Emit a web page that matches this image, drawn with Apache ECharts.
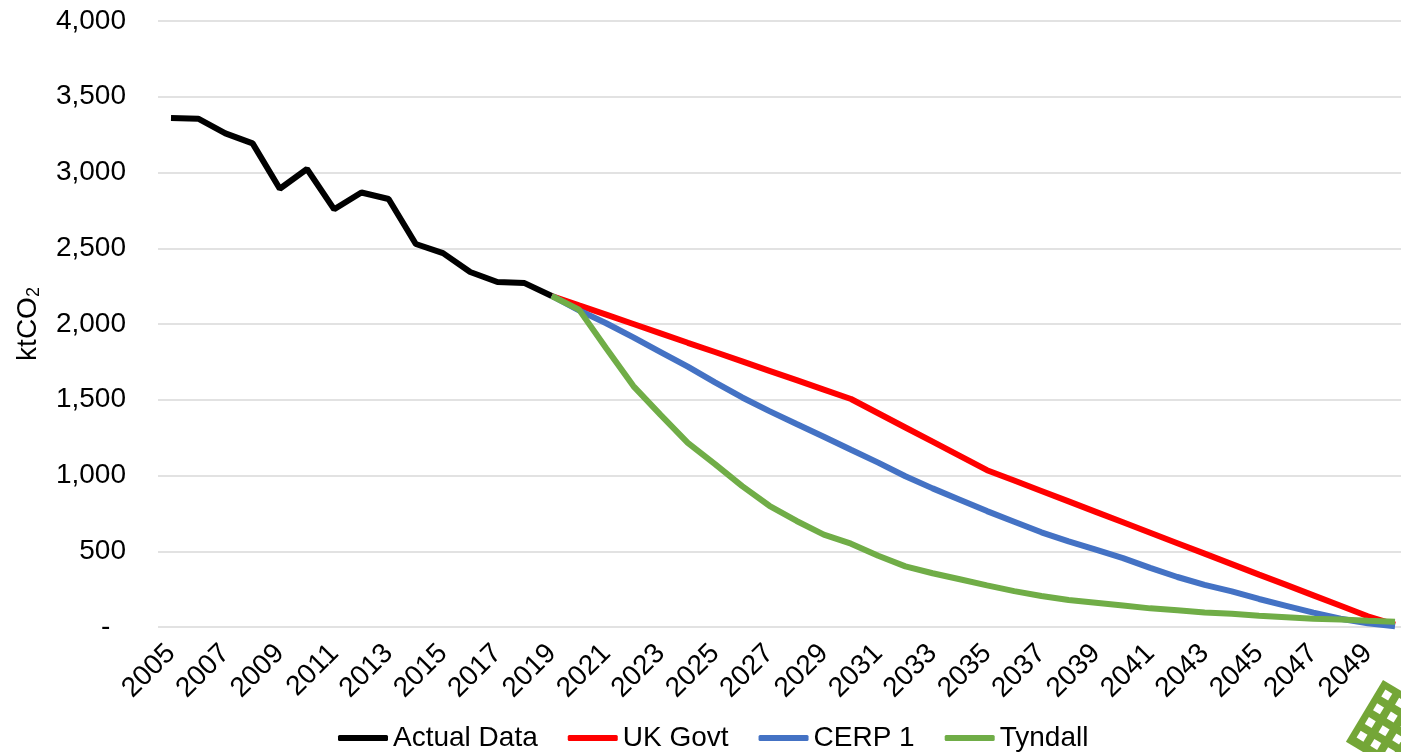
<!DOCTYPE html>
<html>
<head>
<meta charset="utf-8">
<script src="https://cdn.jsdelivr.net/npm/echarts@6/dist/echarts.min.js"></script>
<style>
html,body{margin:0;padding:0;background:#fff;}
#chart{width:1401px;height:752px;}
</style>
</head>
<body>
<div id="chart"></div>
<script>
const years = [];
for (let y = 2005; y <= 2050; y++) years.push(String(y));

const actualData = [3360, 3355, 3258, 3192, 2893, 3023, 2757, 2868, 2825, 2528, 2468, 2343, 2277, 2270, 2185];
const ukGovt = [2185, 2123, 2062, 2000, 1938, 1876, 1815, 1753, 1691, 1629, 1567, 1505, 1411, 1317, 1223, 1129, 1035, 967, 898, 829, 760, 691, 622, 553, 484, 415, 346, 278, 209, 140, 71, 15];
const cerp1 = [2185, 2090, 2005, 1912, 1815, 1718, 1615, 1515, 1425, 1340, 1256, 1170, 1085, 995, 915, 840, 765, 695, 625, 565, 510, 455, 390, 330, 278, 235, 185, 140, 95, 55, 25, 5];
const tyndall = [2185, 2095, 1840, 1590, 1400, 1215, 1075, 930, 800, 700, 610, 550, 470, 400, 355, 315, 275, 237, 205, 178, 160, 142, 123, 110, 95, 88, 75, 65, 55, 50, 42, 35];

const yTicks = { min: 0, max: 4000, interval: 500 };

function pad(arr, startYear) {
  const out = years.map(() => null);
  const off = startYear - 2005;
  arr.forEach((v, i) => { out[off + i] = v; });
  return out;
}

const FONT = "'Liberation Sans', Arial, sans-serif";
const chart = echarts.init(document.getElementById('chart'), null, { renderer: 'canvas' });

// decorative logo
const logoChildren = [{ type: 'rect', shape: { x: 0, y: 0, width: 72, height: 72 }, style: { fill: '#74a637' } }];
for (let r = 0; r < 4; r++) {
  for (let c = 0; c < 4; c++) {
    logoChildren.push({ type: 'rect', shape: { x: 7 + c * 16, y: 7 + r * 16, width: 8, height: 8 }, style: { fill: '#ffffff' } });
  }
}

const lineW = 6;

chart.setOption({
  animation: false,
  backgroundColor: '#ffffff',
  grid: [
    { left: 171, top: 21, width: 1224, height: 606, containLabel: false },
    { left: 158, top: 21, right: 0, height: 606, containLabel: false }
  ],
  legend: {
    left: 333,
    top: 719,
    itemWidth: 50,
    itemHeight: 6,
    itemGap: 30,
    icon: 'roundRect',
    textStyle: { fontFamily: FONT, fontSize: 28, color: '#000' },
    data: ['Actual Data', 'UK Govt', 'CERP 1', 'Tyndall']
  },
  xAxis: [{
    gridIndex: 0,
    type: 'category',
    data: years,
    boundaryGap: false,
    axisLine: { show: false },
    axisTick: { show: false },
    splitLine: { show: false },
    axisLabel: {
      interval: 1,
      rotate: 45,
      margin: 22,
      fontFamily: FONT,
      fontSize: 28,
      color: '#000'
    }
  }, {
    gridIndex: 1,
    type: 'value',
    show: false
  }],
  yAxis: [{
    gridIndex: 0,
    type: 'value',
    min: yTicks.min,
    max: yTicks.max,
    interval: yTicks.interval,
    axisLine: { show: false },
    axisTick: { show: false },
    splitLine: { show: false },
    axisLabel: {
      margin: 45,
      fontFamily: FONT,
      fontSize: 28,
      color: '#000',
      formatter: v => v === 0 ? '-  ' : v.toLocaleString('en-US')
    },
    name: '{a|ktCO}{b|2}',
    nameLocation: 'middle',
    nameRotate: 90,
    nameGap: 128,
    nameTextStyle: {
      rich: {
        a: { fontFamily: FONT, fontSize: 28, color: '#000' },
        b: { fontFamily: FONT, fontSize: 18, color: '#000', padding: [12, 0, 0, 0] }
      }
    }
  }, {
    gridIndex: 1,
    type: 'value',
    min: yTicks.min,
    max: yTicks.max,
    interval: yTicks.interval,
    axisLine: { show: false },
    axisTick: { show: false },
    axisLabel: { show: false },
    splitLine: { lineStyle: { color: '#d9d9d9', width: 1.5 } }
  }],
  series: [
    { name: 'Actual Data', type: 'line', data: pad(actualData, 2005), showSymbol: false, symbol: 'none', lineStyle: { color: '#000000', width: lineW }, itemStyle: { color: '#000000' } },
    { name: 'UK Govt', type: 'line', data: pad(ukGovt, 2019), showSymbol: false, symbol: 'none', lineStyle: { color: '#ff0000', width: lineW }, itemStyle: { color: '#ff0000' } },
    { name: 'CERP 1', type: 'line', data: pad(cerp1, 2019), showSymbol: false, symbol: 'none', lineStyle: { color: '#4472c4', width: lineW }, itemStyle: { color: '#4472c4' } },
    { name: 'Tyndall', type: 'line', data: pad(tyndall, 2019), showSymbol: false, symbol: 'none', lineStyle: { color: '#70ad47', width: lineW }, itemStyle: { color: '#70ad47' } }
  ],
  graphic: [{
    type: 'group',
    x: 1383,
    y: 680,
    rotation: -31 * Math.PI / 180,
    children: logoChildren
  }]
});
</script>
</body>
</html>
